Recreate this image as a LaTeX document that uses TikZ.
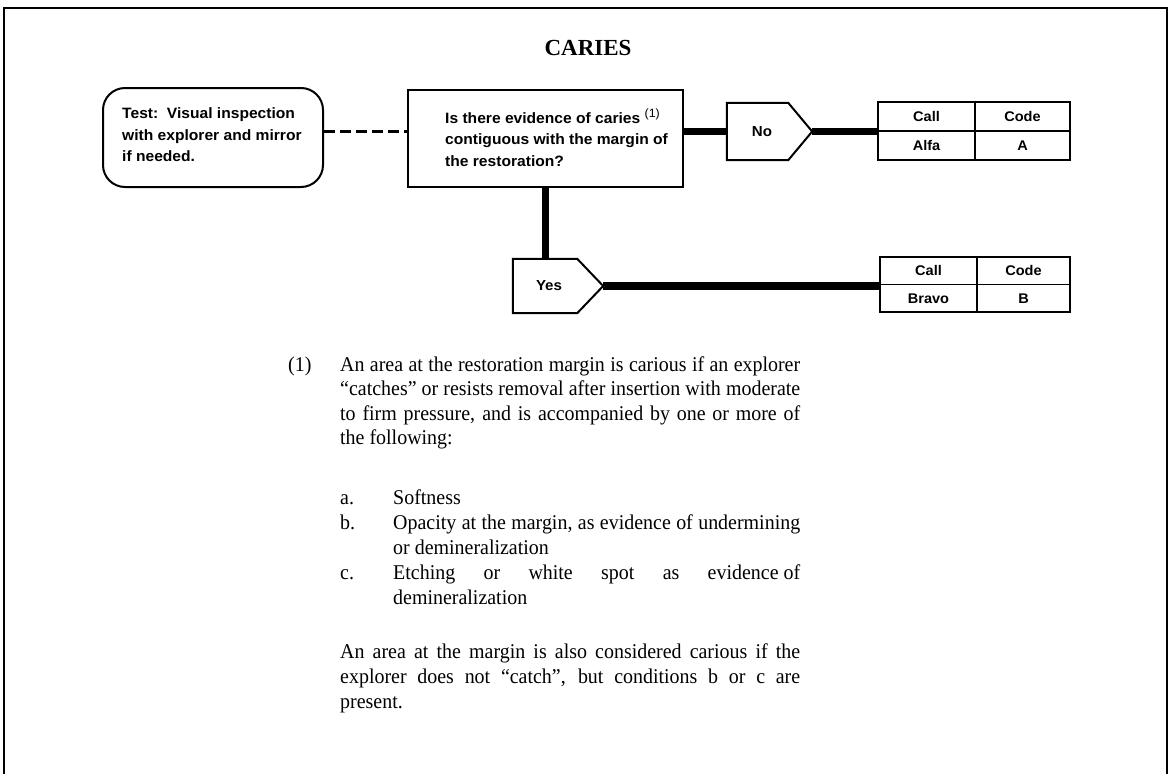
\documentclass[tikz,border=0pt]{standalone}
\usepackage{fontspec}
\setmainfont{Liberation Serif}
\newfontfamily\bodyfont[FakeStretch=0.95]{Liberation Serif}
\newfontfamily\diafont[FakeStretch=1.04]{Liberation Sans}
\usetikzlibrary{calc}
\tikzset{
  box/.style={draw, line width=2pt, inner sep=0pt},
  dia/.style={font=\diafont\bfseries\fontsize{15}{21.5}\selectfont, align=left, inner sep=0pt},
  pent/.style={inner sep=0pt, font=\diafont\bfseries\fontsize{14.5}{16}\selectfont},
  cell/.style={draw, line width=1.8pt, inner sep=0pt, minimum height=28pt, font=\diafont\bfseries\fontsize{14}{16}\selectfont},
  heavy/.style={line width=7.5pt},
  dashline/.style={line width=2.5pt, dash pattern=on 11pt off 5pt},
  body/.style={font=\bodyfont\fontsize{21}{25}\selectfont, anchor=base west, inner sep=0pt},
}
\begin{document}
\begin{tikzpicture}[x=1pt,y=-1pt]
\useasboundingbox (0,0) rectangle (1170,774);
% frame
\draw[line width=2pt] (3.5,774) -- (3.5,8) -- (1166.5,8) -- (1166.5,774);
% title
\node[font=\bfseries\fontsize{23}{27}\selectfont, inner sep=0pt] (title) at (588,48) {CARIES};
% test box
\node[box, rounded corners=22pt, minimum width=220pt, minimum height=99pt] (test) at (213,137.5) {};
\node[dia, anchor=west] (testtxt) at (122,135) {Test:\ \ Visual inspection\\with explorer and mirror\\if needed.};
% question box
\node[box, minimum width=275pt, minimum height=97pt] (q) at (545.5,138.5) {};
\node[dia, anchor=west] (qtxt) at (445,137.5) {Is there evidence of caries \raisebox{6pt}{\fontsize{12}{12}\selectfont\mdseries (1)}\\contiguous with the margin of\\the restoration?};
% No pentagon
\node[pent, minimum width=61pt, minimum height=57pt] (no) at (757.5,131.5) {\hspace*{9pt}No};
\coordinate (notip) at ($(no.east)+(24,0)$);
\draw[line width=2pt] (no.north west) -- (no.north east) -- (notip) -- (no.south east) -- (no.south west) -- cycle;
% table 1
\node[cell, minimum width=97pt, minimum height=29pt] (call1) at (926.5,116.5) {Call};
\node[cell, minimum width=95pt, minimum height=29pt] (code1) at (1022.5,116.5) {Code};
\node[cell, minimum width=97pt, minimum height=29pt] (alfa) at (926.5,145.5) {Alfa};
\node[cell, minimum width=95pt, minimum height=29pt] (codeA) at (1022.5,145.5) {A};
% Yes pentagon
\node[pent, minimum width=64pt, minimum height=54pt] (yes) at (545,286) {\hspace*{8pt}Yes};
\coordinate (yestip) at ($(yes.east)+(26,0)$);
\draw[line width=2pt] (yes.north west) -- (yes.north east) -- (yestip) -- (yes.south east) -- (yes.south west) -- cycle;
% table 2
\node[cell, minimum width=97pt, minimum height=27.5pt] (call2) at (928.5,270.75) {Call};
\node[cell, minimum width=93pt, minimum height=27.5pt] (code2) at (1023.5,270.75) {Code};
\node[cell, minimum width=97pt, minimum height=27.5pt] (bravo) at (928.5,298.25) {Bravo};
\node[cell, minimum width=93pt, minimum height=27.5pt] (codeB) at (1023.5,298.25) {B};
% connectors
\draw[dashline] (no.west -| test.east) -- (no.west -| q.west);
\draw[heavy] (no.west -| q.east) -- (no.west);
\draw[heavy] (notip) -- (notip -| alfa.west);
\draw[heavy] (q.south) -- (q.south |- yes.north);
\draw[heavy] (yestip) -- (yestip -| bravo.west);
% footnote
\node[body] (fnmark) at (288,371) {(1)};
\node[body] (p1a) at (340,371) {\makebox[460pt][s]{An area at the restoration margin is carious if an explorer}};
\node[body] (p1b) at (340,395.5) {\makebox[460pt][s]{“catches” or resists removal after insertion with moderate}};
\node[body] (p1c) at (340,420) {\makebox[460pt][s]{to firm pressure, and is accompanied by one or more of}};
\node[body] (p1d) at (340,444.5) {the following:};
\node[body] (la) at (340,504) {a.};
\node[body] (ia) at (393,504) {Softness};
\node[body] (lb) at (340,529) {b.};
\node[body] (ib1) at (393,529) {\makebox[407pt][s]{Opacity at the margin, as evidence of undermining}};
\node[body] (ib2) at (393,554) {or demineralization};
\node[body] (lc) at (340,579) {c.};
\node[body] (ic1) at (393,579) {\makebox[407pt][s]{Etching or white spot as evidence\hspace{5pt}of}};
\node[body] (ic2) at (393,604) {demineralization};
\node[body] (p2a) at (340,658) {\makebox[460pt][s]{An area at the margin is also considered carious if the}};
\node[body] (p2b) at (340,683) {\makebox[460pt][s]{explorer does not “catch”, but conditions b or c are}};
\node[body] (p2c) at (340,708) {present.};
\end{tikzpicture}
\end{document}
